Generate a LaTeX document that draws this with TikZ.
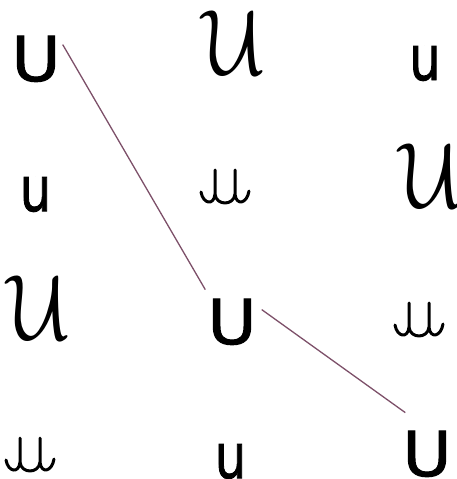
\documentclass[tikz,border=0pt]{standalone}
\usepackage{fontspec}
\newfontfamily\dvs[FakeBold=1.6]{DejaVu Sans}
\definecolor{linec}{RGB}{125,80,105}
\begin{document}
\begin{tikzpicture}[x=1pt,y=-1pt,
  glyph/.style={inner sep=0pt, anchor=base},
  bigU/.style={glyph, font=\dvs\fontsize{62}{62}\selectfont, xscale=1.08},
  smallu/.style={glyph, font=\dvs\fontsize{62}{62}\selectfont, xscale=0.8},
  scriptU/.style={glyph, scale=9.3, xscale=0.88, xslant=-0.33},
  cur/.pic={\draw[line width=3pt, line cap=round, line join=round]
     (-24,-13) .. controls (-22,-1) and (-11,1) .. (-10,-11) -- (-10,-35)
     (-10,-11) .. controls (-9,1) and (9,1) .. (10,-11)
     (10,-35) -- (10,-11) .. controls (11,1) and (22,-1) .. (24,-14);},
  link/.style={draw=linec, line width=1.3pt}
]
\useasboundingbox (0,0) rectangle (457,479);
\node[bigU] (U1) at (36,81) {U};
\node[scriptU] (S1) at (245.5,74) {$\mathcal{U}$};
\node[smallu] (u1) at (425,80) {u};
\node[smallu] (u2) at (35.5,211) {u};
\pic (c1) at (225,205) {cur};
\node[scriptU] (S2) at (442,207) {$\mathcal{U}$};
\node[scriptU] (S3) at (50,339) {$\mathcal{U}$};
\node[bigU] (U2) at (232,344) {U};
\pic (c2) at (419,338) {cur};
\pic (c3) at (30,473) {cur};
\node[smallu] (u3) at (230.5,478) {u};
\node[bigU] (U3) at (427,476) {U};
\draw[link] ([shift={(2,9)}]U1.north east) -- ([shift={(-2,-9)}]U2.north west);
\draw[link] ([shift={(5,11)}]U2.north east) -- ([shift={(3,-18)}]U3.north west);
\end{tikzpicture}
\end{document}
